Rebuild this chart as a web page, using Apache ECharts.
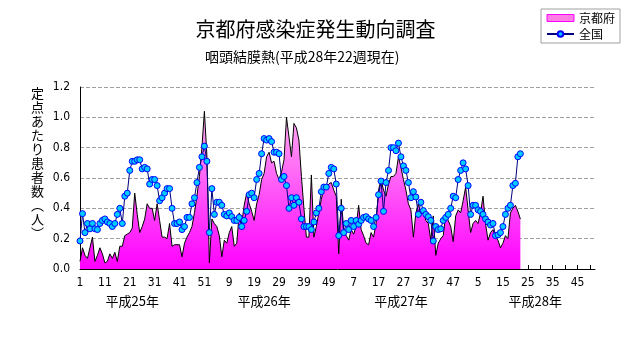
<!DOCTYPE html>
<html><head><meta charset="utf-8">
<script src="https://cdn.jsdelivr.net/npm/echarts@6/dist/echarts.min.js"></script>
<style>html,body{margin:0;padding:0;background:#fff}#c{width:631px;height:347px}</style>
</head><body><div id="c"></div>
<script>
// Week categories: 4 years (平成25〜28年) x 52 weeks
const yearsShown = [25, 26, 27, 28];
const weeksPerYear = 52;
const categories = [];
yearsShown.forEach(function () { for (let w = 1; w <= weeksPerYear; w++) categories.push(String(w)); });

const yearLabels = ['平成25年', '平成26年', '平成27年', '平成28年'];
const yearLabelIndex = [21, 74, 129, 183];

const yAxisTitle = ['定','点','あ','た','り','患','者','数','︵','人','︶'];

// 京都府 (定点あたり患者数)
const kyoto = [
0.05,0.14,0.09,0.07,0.14,0.21,0.05,0.09,0.14,0.10,
0.04,0.05,0.10,0.07,0.11,0.05,0.15,0.15,0.22,0.23,
0.24,0.27,0.50,0.36,0.24,0.28,0.33,0.43,0.40,0.40,
0.32,0.43,0.32,0.21,0.21,0.20,0.30,0.15,0.16,0.16,
0.16,0.08,0.17,0.21,0.24,0.28,0.37,0.48,0.61,0.80,
1.04,0.75,0.04,0.33,0.30,0.28,0.22,0.08,0.19,0.17,
0.24,0.28,0.15,0.17,0.37,0.30,0.42,0.50,0.43,0.38,
0.32,0.43,0.49,0.59,0.63,0.74,0.77,0.70,0.71,0.63,
0.59,0.64,0.72,1.00,0.87,0.74,0.96,0.93,0.85,0.61,
0.40,0.21,0.21,0.62,0.21,0.28,0.37,0.46,0.53,0.54,
0.56,0.57,0.52,0.48,0.10,0.46,0.26,0.22,0.19,0.26,
0.23,0.28,0.42,0.26,0.22,0.17,0.16,0.24,0.21,0.30,
0.52,0.59,0.52,0.48,0.56,0.61,0.61,0.63,0.74,0.67,
0.59,0.52,0.43,0.39,0.21,0.37,0.43,0.36,0.38,0.32,
0.30,0.19,0.35,0.09,0.17,0.20,0.22,0.36,0.32,0.28,
0.18,0.35,0.39,0.37,0.45,0.54,0.39,0.24,0.30,0.32,
0.30,0.37,0.48,0.30,0.19,0.24,0.26,0.21,0.19,0.14,
0.17,0.22,0.20,0.37,0.40,0.42,0.38,0.33
];

// 全国 (定点あたり患者数)
const national = [
0.185,0.365,0.24,0.30,0.265,0.30,0.265,0.26,0.30,0.32,
0.33,0.31,0.30,0.28,0.30,0.36,0.40,0.30,0.48,0.50,
0.65,0.71,0.71,0.72,0.72,0.66,0.67,0.66,0.56,0.59,
0.59,0.55,0.45,0.47,0.50,0.53,0.53,0.40,0.30,0.30,
0.31,0.26,0.28,0.34,0.34,0.43,0.47,0.57,0.67,0.74,
0.81,0.71,0.24,0.53,0.36,0.44,0.44,0.42,0.36,0.35,
0.37,0.345,0.32,0.32,0.34,0.28,0.32,0.38,0.49,0.50,
0.47,0.59,0.63,0.76,0.86,0.85,0.86,0.84,0.77,0.77,
0.76,0.59,0.61,0.55,0.40,0.47,0.42,0.47,0.44,0.33,
0.28,0.28,0.28,0.26,0.31,0.37,0.40,0.51,0.54,0.54,
0.63,0.67,0.66,0.56,0.22,0.40,0.24,0.30,0.26,0.32,
0.28,0.32,0.295,0.32,0.34,0.345,0.33,0.32,0.28,0.34,
0.49,0.58,0.38,0.57,0.65,0.80,0.80,0.78,0.83,0.74,
0.68,0.65,0.57,0.47,0.51,0.475,0.36,0.44,0.385,0.36,
0.345,0.32,0.185,0.28,0.26,0.265,0.32,0.34,0.36,0.40,
0.48,0.47,0.59,0.65,0.70,0.66,0.55,0.36,0.42,0.42,
0.39,0.38,0.36,0.33,0.31,0.29,0.30,0.22,0.225,0.24,
0.28,0.36,0.40,0.42,0.55,0.565,0.74,0.76
];

const yearAxisData = categories.map(function (c, i) {
  const k = yearLabelIndex.indexOf(i);
  return k >= 0 ? yearLabels[k] : '';
});

const CJK = "'Noto Sans CJK JP', sans-serif";
const NUM = "'Liberation Sans Narrow', 'DejaVu Sans Condensed', 'Liberation Sans', sans-serif";

const chart = echarts.init(document.getElementById('c'), null, {renderer: 'canvas'});
const pinkGrad = new echarts.graphic.LinearGradient(0, 87, 0, 269, [
  {offset: 0, color: '#ffc8ee'},
  {offset: 1, color: '#ff00ff'}
], true);

chart.setOption({
  animation: false,
  backgroundColor: '#fff',
  title: [
    {text: '京都府感染症発生動向調査', left: 'center', top: 14,
     textStyle: {fontFamily: CJK, fontSize: 20, fontWeight: 'normal', color: '#000'}},
    {text: '咽頭結膜熱(平成28年22週現在)', left: 200, top: 45,
     textStyle: {fontFamily: CJK, fontSize: 14, fontWeight: 'normal', color: '#000'}}
  ],
  legend: {
    orient: 'vertical', left: 541, top: 9,
    padding: [3, 5, 3, 5], itemGap: 4,
    borderColor: '#a0a0a0', borderWidth: 1, backgroundColor: '#fff',
    itemWidth: 27, itemHeight: 7,
    textStyle: {fontFamily: CJK, fontSize: 12, color: '#000'},
    data: [
      {name: '京都府', icon: 'rect', itemStyle: {color: '#ff7ee6', borderColor: '#ff00ff', borderWidth: 1}},
      {name: '全国'}
    ]
  },
  grid: {left: 80, right: 36, top: 87, bottom: 78},
  graphic: [{
    type: 'text', left: 31, top: 86,
    style: {text: yAxisTitle.join('\n'), font: "13px 'Noto Sans CJK JP'", lineHeight: 14, fill: '#000', align: 'center'}
  }],
  xAxis: [{
    type: 'category', data: categories, boundaryGap: false,
    axisLine: {lineStyle: {color: '#000', width: 1}},
    axisTick: {show: true, inside: true, length: 4, interval: 4, lineStyle: {color: '#000'}},
    axisLabel: {interval: 9, margin: 8, fontFamily: NUM, fontSize: 12, color: '#000'},
    splitLine: {show: false}
  }, {
    type: 'category', data: yearAxisData, boundaryGap: false, position: 'bottom', offset: 18,
    axisLine: {show: false}, axisTick: {show: false},
    axisLabel: {interval: 0, margin: 8, fontFamily: CJK, fontSize: 13, color: '#000'},
    splitLine: {show: false}
  }],
  yAxis: {
    type: 'value', min: 0, max: 1.2, interval: 0.2,
    axisLine: {show: true, lineStyle: {color: '#000'}},
    axisTick: {show: false},
    axisLabel: {margin: 10, fontFamily: NUM, fontSize: 12, color: '#000',
                formatter: function (v) { return v.toFixed(1); }},
    splitLine: {show: true, lineStyle: {color: '#a0a0a0', type: [4, 2], width: 1}}
  },
  series: [{
    name: '京都府', type: 'line', data: kyoto, symbol: 'none', z: 2,
    lineStyle: {color: '#000', width: 1},
    itemStyle: {color: '#ff7ee6'},
    areaStyle: {color: pinkGrad, opacity: 1}
  }, {
    name: '全国', type: 'line', data: national, symbol: 'circle', symbolSize: 6, z: 3,
    showSymbol: true, showAllSymbol: true,
    lineStyle: {color: '#000080', width: 1},
    itemStyle: {color: '#00ccff', borderColor: '#0000ff', borderWidth: 1}
  }]
});
</script>
</body></html>
